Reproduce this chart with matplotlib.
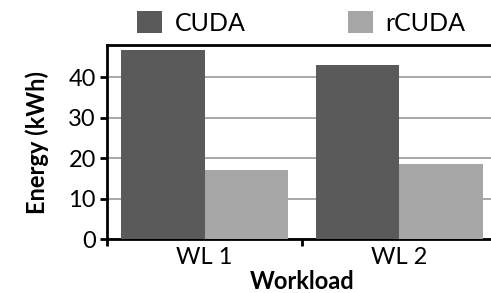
import matplotlib
matplotlib.use("Agg")
import matplotlib.pyplot as plt
import numpy as np

plt.rcParams["font.family"] = ["Lato", "DejaVu Sans"]

workloads = ["WL 1", "WL 2"]
cuda = [46.7, 43.0]
rcuda = [17.0, 18.5]
DARK, LIGHT = "#5a5a5a", "#a6a6a6"

fig = plt.figure(figsize=(4.91, 2.93), dpi=100)
ax = fig.add_axes([0.218, 0.184, 0.794, 0.662])

x = np.arange(len(workloads))
w = 0.43
ax.bar(x - w/2, cuda, w, color=DARK, label="CUDA", zorder=3)
ax.bar(x + w/2, rcuda, w, color=LIGHT, label="rCUDA", zorder=3)

ax.set_xlim(-0.5, 1.5)
ax.set_ylim(0, 48)
ax.set_yticks([0, 10, 20, 30, 40])
ax.set_xticks(x)
ax.set_xticklabels(workloads)
ax.set_xticks([-0.5, 0.5, 1.5], minor=True)
ax.tick_params(axis="x", which="major", length=0, labelsize=17, pad=6)
ax.tick_params(axis="x", which="minor", length=5, width=2, direction="out")
ax.tick_params(axis="y", length=5, width=2, direction="out", labelsize=17, pad=3)
ax.grid(axis="y", color="#999999", lw=1.2, zorder=0)
for s in ["left", "bottom", "top"]:
    ax.spines[s].set_linewidth(2)
ax.spines["right"].set_visible(False)

ax.set_ylabel("Energy (kWh)", fontsize=17, fontweight="bold", labelpad=14)
ax.set_xlabel("Workload", fontsize=17, fontweight="bold", labelpad=1)
ax.legend(loc="lower left", bbox_to_anchor=(0.045, 0.99), ncol=2, frameon=False,
          fontsize=18, handlelength=1.0, handleheight=1.0, columnspacing=4.1,
          handletextpad=0.5, borderaxespad=0.1)

fig.savefig("out.png", dpi=100)
